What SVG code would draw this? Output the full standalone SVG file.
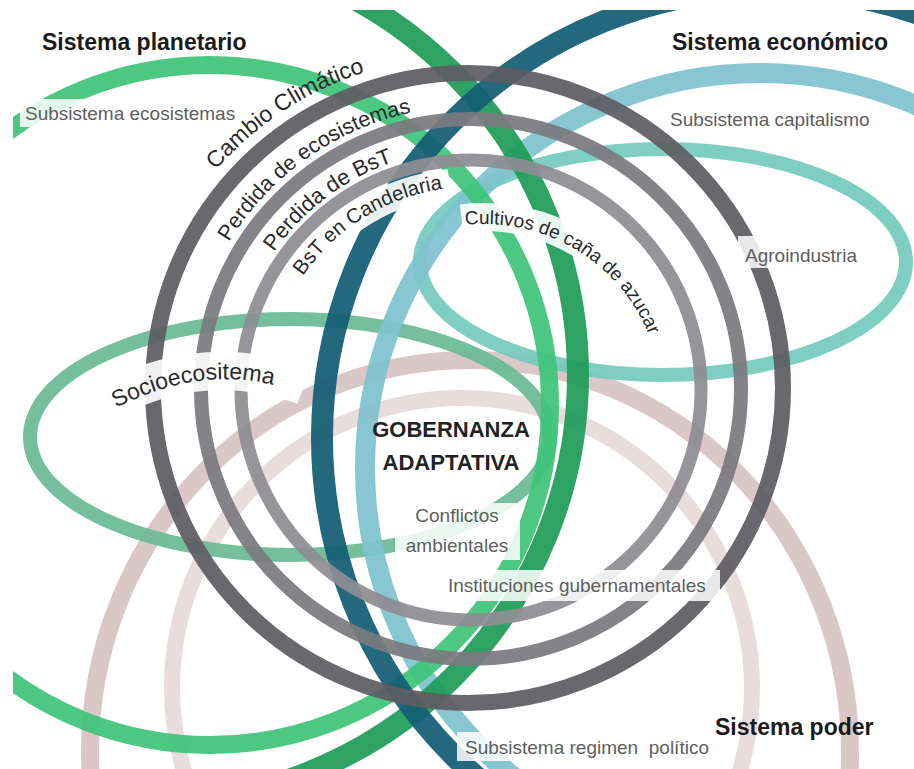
<svg xmlns="http://www.w3.org/2000/svg" width="914" height="769" viewBox="0 0 914 769">
<style>
.ring{fill:none;opacity:0.93}
.hdr{font-family:"Liberation Sans",Arial,sans-serif;font-weight:bold;font-size:23px;fill:#1b1b1b}
.sub{font-family:"Liberation Sans",Arial,sans-serif;font-size:19px;fill:#5e5e5e}
.lbl{font-family:"Liberation Sans",Arial,sans-serif;font-size:21px;fill:#2a2a2a}
.core{font-family:"Liberation Sans",Arial,sans-serif;font-weight:bold;font-size:22px;fill:#222;text-anchor:middle}
.bg{fill:#fff;opacity:0.85}
.bgs{fill:none;stroke:#fff;opacity:0.9}
</style>
<defs>
<clipPath id="frame"><rect x="13" y="10" width="901" height="759"/></clipPath>
<path id="pCambio" d="M 216 170 A 330 330 0 0 1 632 102"/>
<path id="pPerEco" d="M 229 242 A 283 283 0 0 1 612 144"/>
<path id="pPerBsT" d="M 274 252 A 242 242 0 0 1 591.5 180"/>
<path id="pBsTC" d="M 303 276 A 203 203 0 0 1 572 214"/>
<path id="pCult" d="M 465.4 225 A 178 178 0 0 1 662 402"/>
<path id="pSocio" d="M 116 408 Q 210 360 296 392"/>
</defs>
<rect width="914" height="769" fill="#fff"/>
<g clip-path="url(#frame)">
<g id="sistema-poder"><ellipse class="ring" cx="470" cy="752" rx="380" ry="392" stroke="#d7c3c3" stroke-width="18"/></g>
<g id="subsistema-regimen"><circle class="ring" cx="462" cy="688" r="290" stroke="#e6d9d9" stroke-width="16"/></g>
<g id="socioecosistema"><ellipse class="ring" cx="290" cy="437" rx="260" ry="118" stroke="#6cba95" stroke-width="14"/></g>
<g id="agroindustria"><ellipse class="ring" cx="663" cy="262" rx="243" ry="113" stroke="#74cabd" stroke-width="14"/></g>
<g id="subsistema-capitalismo"><circle class="ring" cx="760" cy="468" r="395" stroke="#7fc2ce" stroke-width="20"/></g>
<g id="subsistema-ecosistemas"><circle class="ring" cx="210" cy="405" r="340" stroke="#3ec47a" stroke-width="18"/></g>
<g id="sistema-planetario"><circle class="ring" cx="150" cy="375" r="428" stroke="#1f9c58" stroke-width="22"/></g>
<g id="sistema-economico"><circle class="ring" cx="771" cy="438" r="449" stroke="#135d74" stroke-width="22"/></g>
<g id="cambio-climatico"><circle class="ring" cx="468" cy="388" r="315" stroke="#5e5d62" stroke-width="16"/></g>
<g id="perdida-ecosistemas"><circle class="ring" cx="471" cy="389" r="270" stroke="#7b7a7f" stroke-width="14"/></g>
<g id="perdida-bst"><circle class="ring" cx="471" cy="390" r="230" stroke="#8e8d92" stroke-width="13"/></g>
</g>
<g id="connectors"></g>
<g id="labels">
<rect class="bg" x="20" y="99" width="215" height="28" opacity="0.7"/>
<text class="sub" x="25" y="120" font-size="18.5">Subsistema ecosistemas</text>
<text class="hdr" x="42" y="50">Sistema planetario</text>
<text class="hdr" x="672" y="50">Sistema económico</text>
<text class="sub" x="670" y="126" font-size="20">Subsistema capitalismo</text>
<text class="lbl"><textPath href="#pCambio" font-size="23">Cambio Climático</textPath></text>
<text class="lbl"><textPath href="#pPerEco" font-size="21.5">Perdida de ecosistemas</textPath></text>
<text class="lbl"><textPath href="#pPerBsT" font-size="22">Perdida de BsT</textPath></text>
<path class="bgs" d="M 298.6 273.7 A 208 208 0 0 1 449.3 183.1" stroke-width="28"/>
<text class="lbl"><textPath href="#pBsTC" font-size="20.5">BsT en Candelaria</textPath></text>
<path class="bgs" d="M 461.5 218.4 A 185 185 0 0 1 658.9 341.8" stroke-width="28"/>
<text class="lbl"><textPath href="#pCult" font-size="19">Cultivos de caña de azucar</textPath></text>
<rect class="bg" x="738" y="236" width="140" height="32"/>
<text class="sub" x="745" y="262" font-size="21" fill="#555">Agroindustria</text>
<path class="bgs" d="M 110 400 Q 205 350 304 386" stroke-width="38"/>
<text class="lbl"><textPath href="#pSocio" font-size="23">Socioecositema</textPath></text>
<text class="core" x="451" y="437">GOBERNANZA</text>
<text class="core" x="451" y="470">ADAPTATIVA</text>
<rect class="bg" x="395" y="503" width="125" height="57" opacity="0.6"/>
<text class="sub" x="457" y="522" font-size="19.5" text-anchor="middle" fill="#555">Conflictos</text>
<text class="sub" x="457" y="552" font-size="19.5" text-anchor="middle" fill="#555">ambientales</text>
<rect class="bg" x="442" y="570" width="278" height="31"/>
<text class="sub" x="448" y="592" font-size="19.5" fill="#555">Instituciones gubernamentales</text>
<text class="hdr" x="715" y="735">Sistema poder</text>
<rect class="bg" x="457" y="732" width="252" height="29"/>
<text class="sub" x="465" y="754" xml:space="preserve">Subsistema regimen  político</text>
</g>
</svg>
